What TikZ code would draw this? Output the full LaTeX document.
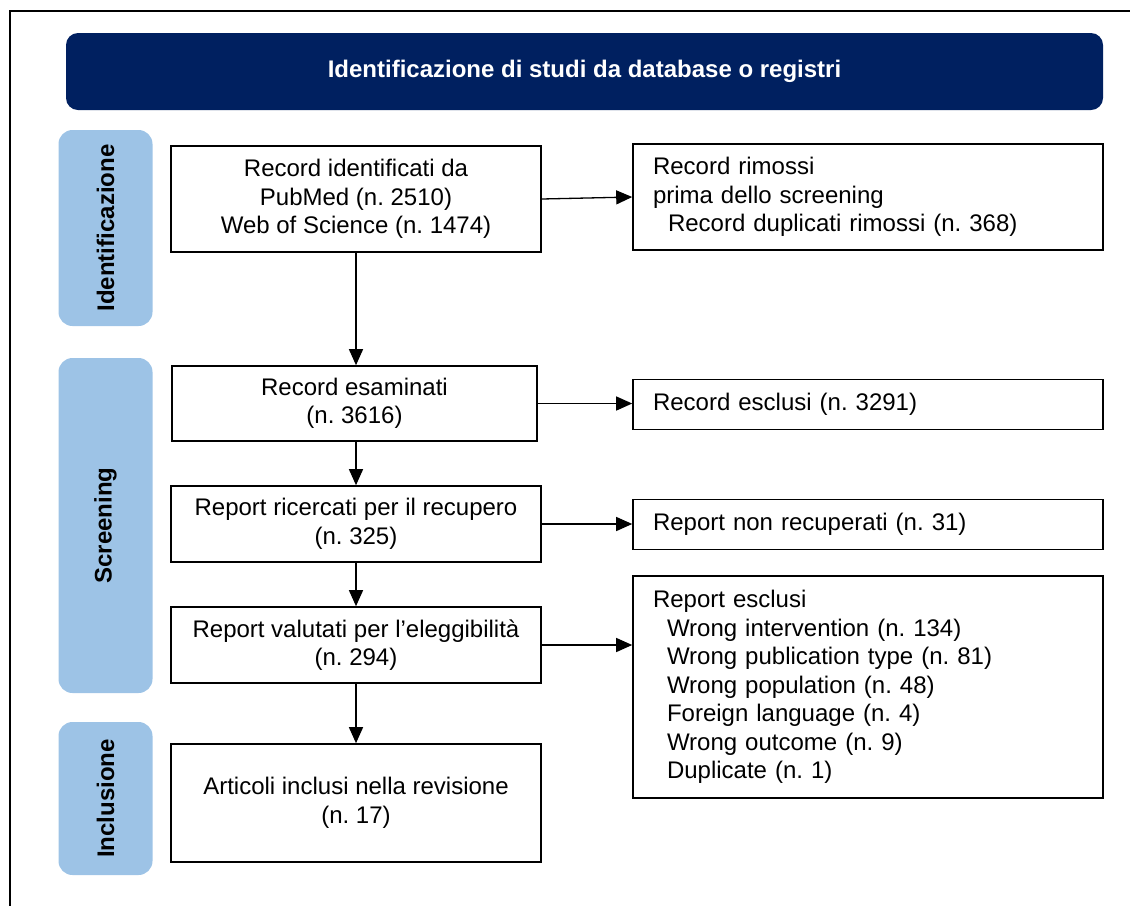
\documentclass[tikz,border=0pt]{standalone}
\usepackage{fontspec}
\setmainfont{Liberation Sans}
\frenchspacing
\usetikzlibrary{arrows.meta}
\definecolor{prismanavy}{RGB}{0,32,96}
\definecolor{prismablue}{RGB}{157,195,230}
\tikzset{
  box/.style={draw=black,line width=1.6pt,inner sep=0pt,align=center,
    minimum width=370pt,font=\fontsize{24}{28.5}\selectfont},
  sidebox/.style={draw=black,line width=1.6pt,inner xsep=20pt,inner ysep=0pt,
    text width=430pt,align=left,font=\fontsize{24}{28.5}\selectfont},
  phase/.style={rotate=90,fill=prismablue,rounded corners=14pt,minimum height=94pt,
    inner sep=0pt,font=\bfseries\fontsize{24}{28}\selectfont},
  flow/.style={-{Triangle[length=16pt,width=14pt]},line width=1.3pt},
}
\begin{document}
\begin{tikzpicture}[x=1pt,y=-1pt]
    \useasboundingbox (0,0) rectangle (1130,906);
    % frame
    \draw[line width=2pt] (1130,11) -- (10,11) -- (10,906);

    \node[fill=prismanavy,rounded corners=12pt,minimum width=1037pt,minimum height=77pt,
          text=white,font=\bfseries\fontsize{24}{28}\selectfont] (head) at (584.5,71.5)
          {Identificazione di studi da database o registri};

    \node[phase,minimum width=196pt] (ident) at (105.5,228) {Identificazione};
    \node[phase,minimum width=335pt] (screen) at (105.5,525.5) {Screening};
    \node[phase,minimum width=153pt] (incl) at (105.5,798.5) {Inclusione};

    \node[box,minimum height=106pt] (A) at (356,199) {Record identificati da\\PubMed (n. 2510)\\Web of Science (n. 1474)};
    \node[sidebox,minimum height=106pt] (B) at (868,197) {Record rimossi\\prima dello screening\\\hspace*{15pt}Record duplicati rimossi (n. 368)};
    \node[box,minimum width=365pt,minimum height=75pt] (C) at (354.5,403.5) {Record esaminati\\(n. 3616)};
    \node[sidebox,minimum height=50pt] (D) at (868,404.5) {Record esclusi (n. 3291)};
    \node[box,minimum height=76pt] (E) at (356,524) {Report ricercati per il recupero\\(n. 325)};
    \node[sidebox,minimum height=50pt] (F) at (868,524.5) {Report non recuperati (n. 31)};
    \node[box,minimum height=76pt] (G) at (356,645) {Report valutati per l’eleggibilità\\(n. 294)};
    \node[sidebox,minimum height=222pt] (H) at (868,687) {Report esclusi\\
        \hspace*{14pt}Wrong intervention (n. 134)\\
        \hspace*{14pt}Wrong publication type (n. 81)\\
        \hspace*{14pt}Wrong population (n. 48)\\
        \hspace*{14pt}Foreign language (n. 4)\\
        \hspace*{14pt}Wrong outcome (n. 9)\\
        \hspace*{14pt}Duplicate (n. 1)};
    \node[box,minimum height=118pt] (I) at (356,803) {Articoli inclusi nella revisione\\(n. 17)};

    \draw[flow] (A.east) -- (B.west);
    \draw[flow] (A.south) -- (A.south |- C.north);
    \draw[flow] (C.east) -- (C.east -| D.west);
    \draw[flow] (C.south -| E.north) -- (E.north);
    \draw[flow] (E.east) -- (E.east -| F.west);
    \draw[flow] (E.south) -- (G.north);
    \draw[flow] (G.east) -- (G.east -| H.west);
    \draw[flow] (G.south) -- (G.south |- I.north);
\end{tikzpicture}
\end{document}
